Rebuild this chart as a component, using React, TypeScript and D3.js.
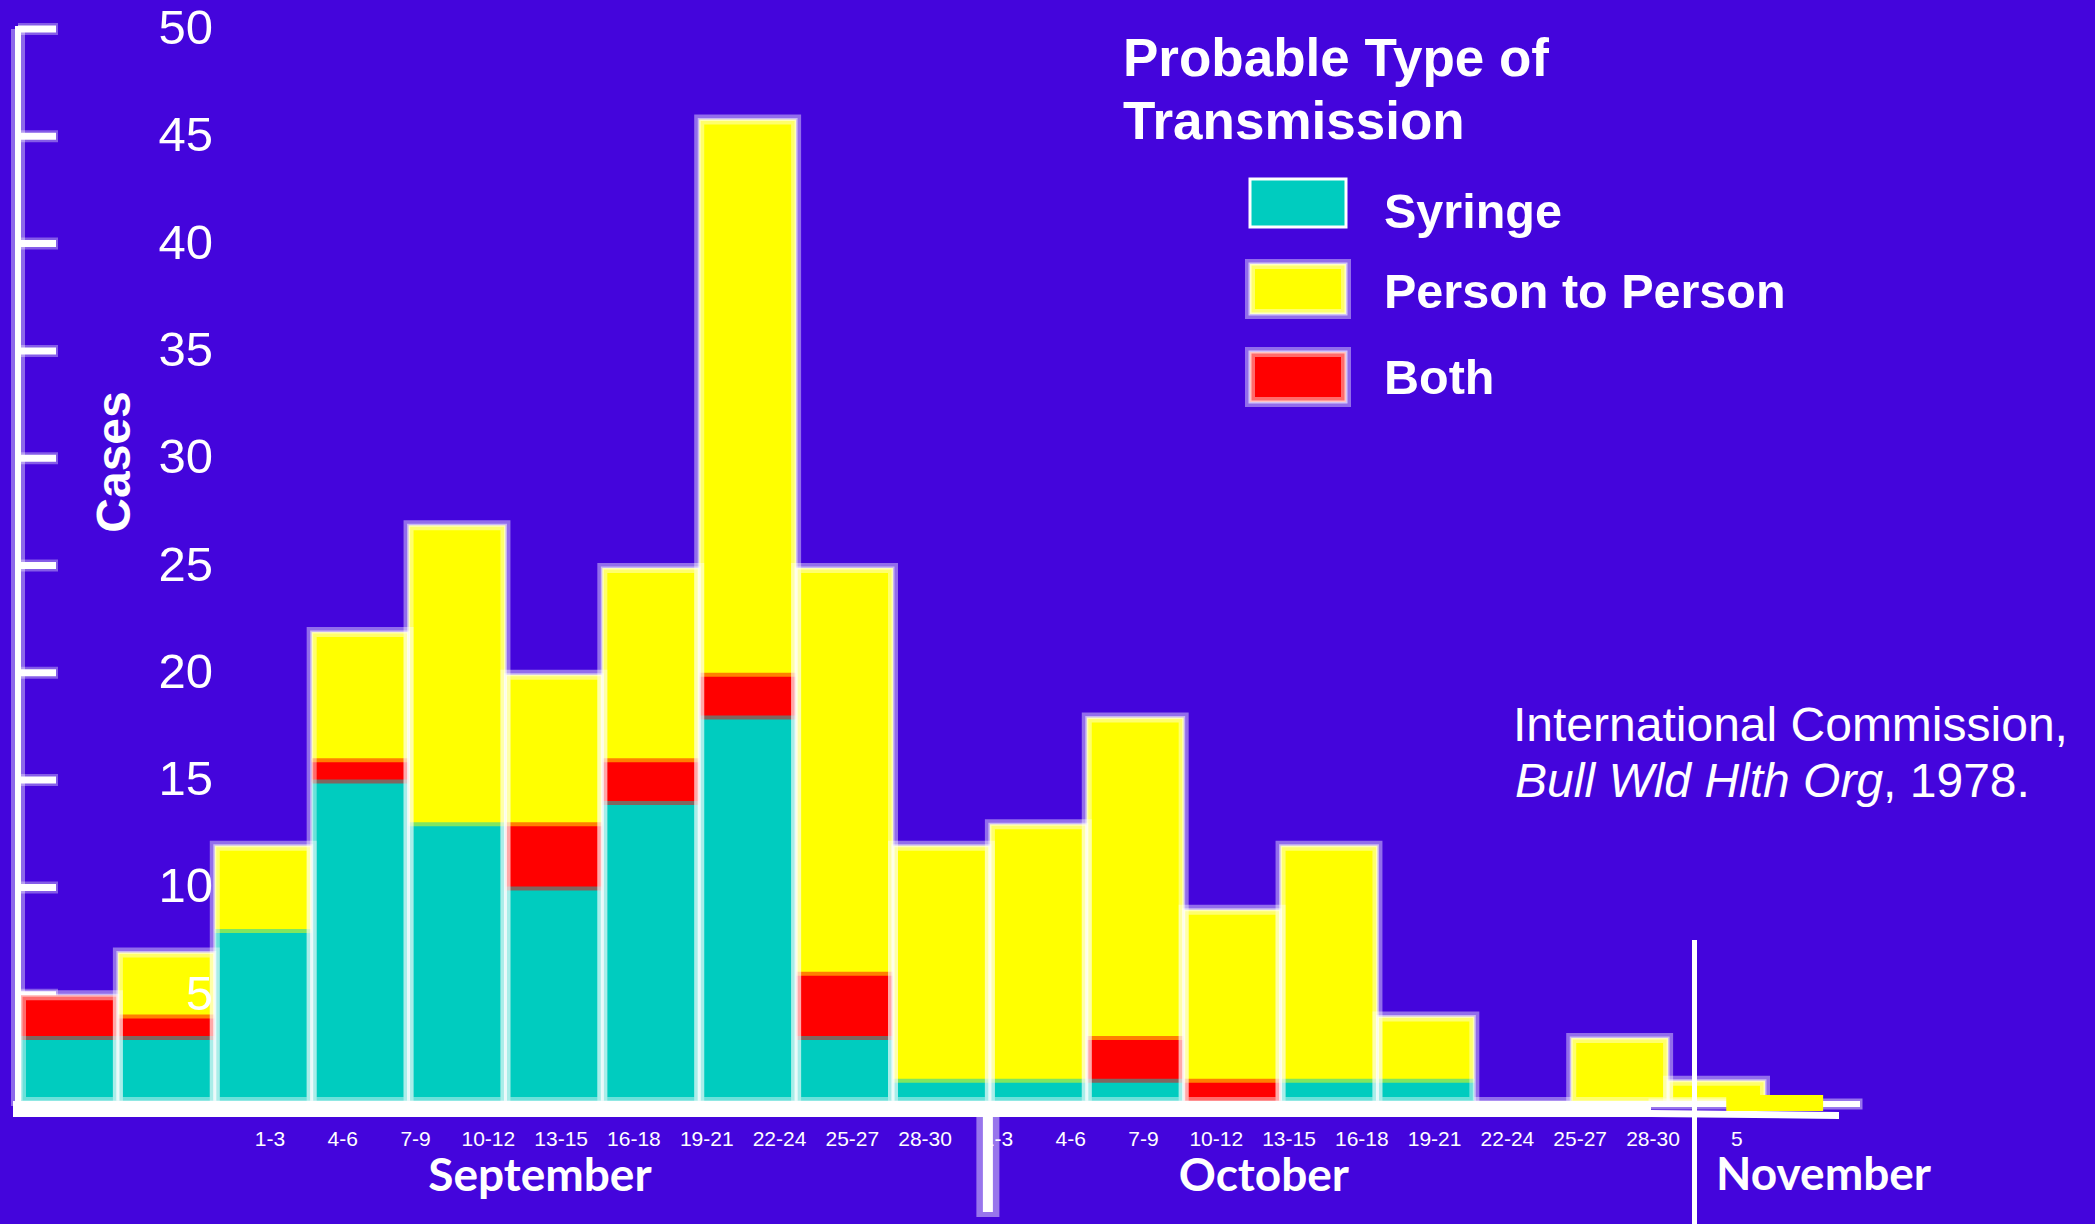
import React from "react";
import * as d3 from "d3";

// ---------- data ----------
const barPeriods = [
  "P01", "P02", "P03", "P04", "P05", "P06", "P07", "P08", "P09",
  "P10", "P11", "P12", "P13", "P14", "P15", "P16", "P17", "P18",
];
const syringe = [3, 3, 8, 15, 13, 10, 14, 18, 3, 1, 1, 1, 0, 1, 1, 0, 0, 0];
const both = [2, 1, 0, 1, 0, 3, 2, 2, 3, 0, 0, 2, 1, 0, 0, 0, 0, 0];
const personToPerson = [0, 3, 4, 6, 14, 7, 9, 26, 19, 11, 12, 15, 8, 11, 3, 0, 3, 1];
const novemberStrayValue = 0.75;

const yTicks = [5, 10, 15, 20, 25, 30, 35, 40, 45, 50];
const xTickLabels = [
  "1-3", "4-6", "7-9", "10-12", "13-15", "16-18", "19-21", "22-24", "25-27", "28-30",
  "1-3", "4-6", "7-9", "10-12", "13-15", "16-18", "19-21", "22-24", "25-27", "28-30",
  "5",
];
const months = ["September", "October", "November"];
const seriesKeys = ["syringe", "both", "person"];
const legendNames = ["Syringe", "Person to Person", "Both"];
const legendKeys = ["syringe", "person", "both"];

// ---------- styles ----------
const W = 2095;
const H = 1224;
const BG = "#4405dc";
const COLORS: Record<string, string> = {
  syringe: "#00ccbf",
  person: "#ffff00",
  both: "#ff0000",
};
const ARIAL = "'Liberation Sans', Arial, sans-serif";
const CALIBRI = "Lato, 'Open Sans', sans-serif";

export default function App() {
  const table = barPeriods.map((p, i) => ({
    period: p,
    syringe: syringe[i],
    both: both[i],
    person: personToPerson[i],
  }));
  const stack = d3.stack<any>().keys(seriesKeys);
  const layers = stack(table);

  const x = d3.scaleBand<string>().domain(barPeriods).range([21, 1765]).padding(0);
  // axis scale (hand-drawn ticks) and bar scale differ slightly in the original slide
  const yAxis = d3.scaleLinear().domain([0, 50]).range([1102, 29]);
  const y = d3.scaleLinear().domain([0, 50]).range([1102, 34]);
  const xl = d3.scaleLinear().domain([0, 19]).range([270, 1653]);
  const bw = x.bandwidth();

  const totals = table.map((d) => d.syringe + d.both + d.person);

  const outlinePath = (x0: number, x1: number, y0: number, y1: number) => {
    const p = d3.path();
    p.moveTo(x0, y1);
    p.lineTo(x1, y1);
    p.lineTo(x1, y0);
    p.lineTo(x0, y0);
    p.closePath();
    return p.toString();
  };

  const mix = (a: string, b: string) => d3.interpolateRgb(a, b)(0.5);

  const boundaries: { x0: number; x1: number; yv: number; color: string }[] = [];
  table.forEach((d, i) => {
    const segs = seriesKeys
      .map((k, li) => ({ k, lo: layers[li][i][0], hi: layers[li][i][1] }))
      .filter((s) => s.hi > s.lo);
    for (let j = 0; j < segs.length - 1; j++) {
      boundaries.push({
        x0: x(d.period)!,
        x1: x(d.period)! + bw,
        yv: segs[j].hi,
        color: mix(COLORS[segs[j].k], COLORS[segs[j + 1].k]),
      });
    }
  });

  const strayX = x(barPeriods[17])! + bw * 0.6;
  const strayDrop = 9;
  const octDividerX = x(barPeriods[10])! - 2;
  const novDividerX = 1694.5;
  const monthPos = [3.68, 13.55, 21.18];
  const monthX = d3.scaleLinear().domain([0, 20]).range([270, 1737]);
  const labelX = (i: number) => (i < 20 ? xl(i) : xl(i) + 11);

  const legendSwatch = [
    { y: 179, h: 48 },
    { y: 264, h: 50 },
    { y: 352, h: 50 },
  ];
  const legendBaselines = [228, 308, 394];

  return (
    <svg
      width={W}
      height={H}
      style={{ position: "absolute", left: 0, top: 0, display: "block" }}
    >
      <rect x={0} y={0} width={W} height={H} fill={BG} />

      {/* y axis */}
      <g>
        <line x1={18} x2={18} y1={yAxis(50)} y2={1106} stroke="white" strokeOpacity={0.4} strokeWidth={14} />
        {yTicks.map((t) => (
          <line key={"th" + t} x1={18} x2={58} y1={yAxis(t)} y2={yAxis(t)} stroke="white" strokeOpacity={0.35} strokeWidth={12} />
        ))}
        <line x1={18} x2={18} y1={yAxis(50) - 3} y2={1106} stroke="white" strokeWidth={6} />
        {yTicks.map((t) => (
          <line key={"t" + t} x1={18} x2={56} y1={yAxis(t)} y2={yAxis(t)} stroke="white" strokeWidth={7} />
        ))}
      </g>

      {/* bars */}
      <g>
        {layers.map((layer, li) =>
          layer.map((d, i) =>
            d[1] > d[0] ? (
              <rect
                key={seriesKeys[li] + i}
                x={x(barPeriods[i])}
                y={y(d[1])}
                width={bw}
                height={y(d[0]) - y(d[1])}
                fill={COLORS[seriesKeys[li]]}
              />
            ) : null
          )
        )}
        {boundaries.map((b, i) => (
          <line key={"b" + i} x1={b.x0} x2={b.x1} y1={y(b.yv)} y2={y(b.yv)} stroke={b.color} strokeWidth={4} />
        ))}
        {table.map((d, i) => {
          const p = outlinePath(x(d.period)!, x(d.period)! + bw, y(0), y(totals[i]));
          return (
            <g key={"o" + i}>
              <path d={p} fill="none" stroke="white" strokeOpacity={0.42} strokeWidth={10} />
              <path d={p} fill="none" stroke="white" strokeOpacity={0.5} strokeWidth={3} />
            </g>
          );
        })}
      </g>

      {/* baseline */}
      <g>
        <rect x={1651} y={1101} width={209} height={6} fill="white" stroke="white" strokeOpacity={0.45} strokeWidth={5} />
        <rect x={13} y={1101} width={1638} height={16} fill="white" />
        <polygon points="1651,1110 1839,1112 1839,1119 1651,1117" fill="white" />
        <rect
          x={strayX}
          y={y(novemberStrayValue) + strayDrop}
          width={bw}
          height={y(0) - y(novemberStrayValue)}
          fill={COLORS.person}
        />
      </g>

      {/* y tick labels */}
      <g fontFamily={ARIAL} fontSize={49} fill="white" textAnchor="end">
        {yTicks.map((t) => (
          <text key={"yl" + t} x={213} y={yAxis(t) + 15}>
            {t}
          </text>
        ))}
      </g>
      <text
        transform="translate(130,462) rotate(-90)"
        fontFamily={ARIAL}
        fontSize={48}
        fontWeight="bold"
        fill="white"
        textAnchor="middle"
      >
        Cases
      </text>

      {/* x tick labels */}
      <g fontFamily={ARIAL} fontSize={21} fill="white" textAnchor="middle">
        {xTickLabels.map((l, i) => (
          <text key={"xl" + i} x={labelX(i)} y={1146}>
            {l}
          </text>
        ))}
      </g>
      <g fontFamily={CALIBRI} fontSize={46} fontWeight="bold" fill="white" textAnchor="middle">
        {months.map((m, i) => (
          <text key={m} x={monthX(monthPos[i])} y={i === 2 ? 1190 : 1191}>
            {m}
          </text>
        ))}
      </g>

      {/* dividers */}
      <line x1={octDividerX} x2={octDividerX} y1={1117} y2={1217} stroke="white" strokeOpacity={0.45} strokeWidth={23} />
      <line x1={octDividerX} x2={octDividerX} y1={1117} y2={1212} stroke="white" strokeWidth={10} />
      <line x1={novDividerX} x2={novDividerX} y1={940} y2={H} stroke="white" strokeWidth={5} />

      {/* legend */}
      <g fontFamily={ARIAL} fontWeight="bold" fill="white">
        <text x={1123} y={76} fontSize={53}>
          Probable Type of
        </text>
        <text x={1123} y={139} fontSize={53}>
          Transmission
        </text>
        {legendKeys.map((k, i) => {
          const s = legendSwatch[i];
          const p = outlinePath(1250, 1346, s.y + s.h, s.y);
          return (
            <g key={k}>
              <rect x={1250} y={s.y} width={96} height={s.h} fill={COLORS[k]} />
              {k === "syringe" ? (
                <path d={p} fill="none" stroke="white" strokeWidth={3} />
              ) : (
                <>
                  <path d={p} fill="none" stroke="white" strokeOpacity={0.42} strokeWidth={10} />
                  <path d={p} fill="none" stroke="white" strokeOpacity={0.6} strokeWidth={3} />
                </>
              )}
              <text x={1384} y={legendBaselines[i]} fontSize={48.5}>
                {legendNames[i]}
              </text>
            </g>
          );
        })}
      </g>

      {/* citation */}
      <g fontFamily={ARIAL} fontSize={48} fill="white">
        <text x={1513} y={741}>International Commission,</text>
        <text x={1515} y={797}>
          <tspan fontStyle="italic">Bull Wld Hlth Org</tspan>
          <tspan>, 1978.</tspan>
        </text>
      </g>
    </svg>
  );
}
